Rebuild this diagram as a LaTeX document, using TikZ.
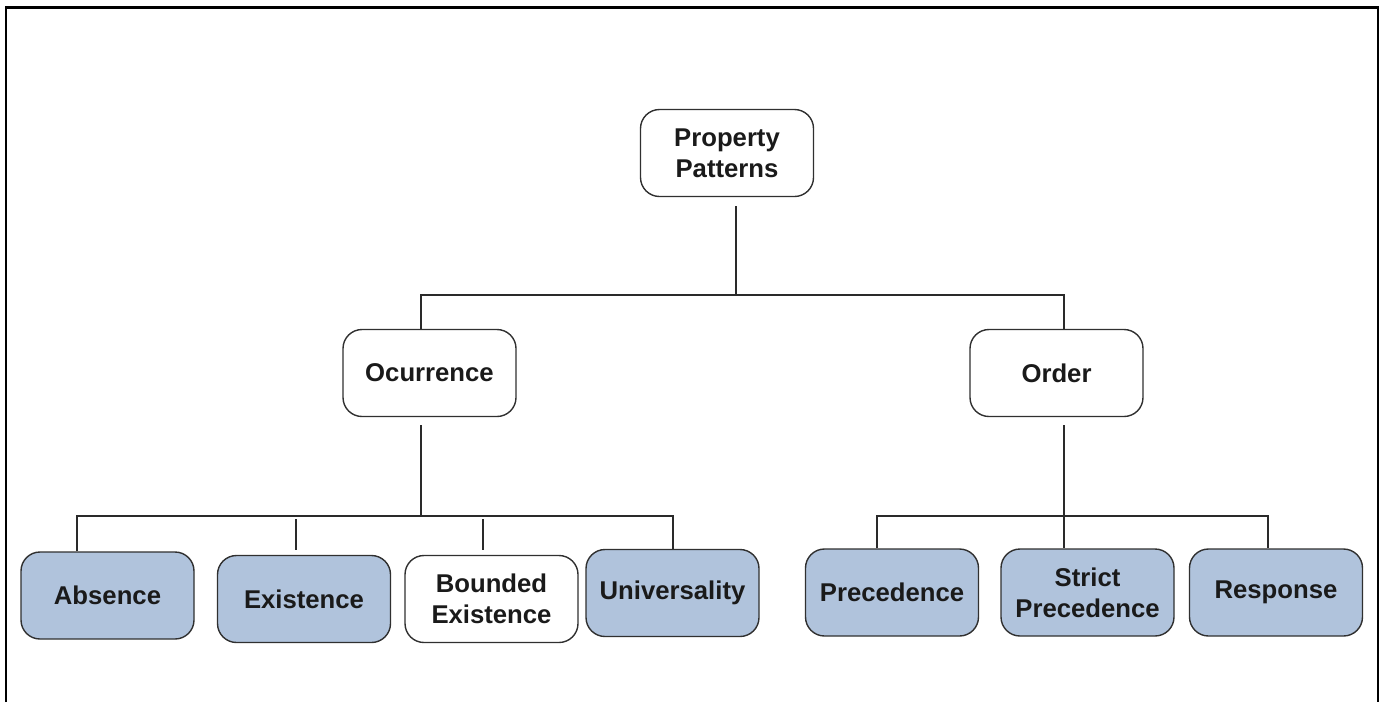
\documentclass[tikz,border=0pt]{standalone}
\usepackage{fontspec}
\setmainfont{Liberation Sans}
\definecolor{leafblue}{HTML}{B0C3DC}
\definecolor{boxline}{HTML}{303030}
\definecolor{linkgray}{HTML}{2A2A2A}
\definecolor{txt}{HTML}{1A1A1A}
\begin{document}
\begin{tikzpicture}[x=1pt,y=-1pt,
  box/.style={draw=boxline, line width=1.4pt, rounded corners=19pt,
    minimum width=173pt, minimum height=87pt, inner sep=0pt, align=center,
    font=\fontsize{25.7}{31}\selectfont\bfseries, text=txt},
  leaf/.style={box, fill=leafblue},
  link/.style={draw=linkgray, line width=1.6pt}
]
\useasboundingbox (0,0) rectangle (1383,702);
% open frame (no bottom edge)
\draw[line width=2.5pt] (6,702) -- (6,7.7) -- (1378,7.7) -- (1378,702);

% nodes
\node[box]  (root)    at (727,153)    {Property\\Patterns};
\node[box]  (ocur)    at (429.5,373)  {Ocurrence};
\node[box]  (order)   at (1056.5,373) {Order};
\node[leaf] (absence) at (107.5,595.5){Absence};
\node[leaf] (exist)   at (304,599)    {Existence};
\node[box]  (bounded) at (491.5,599)  {Bounded\\Existence};
\node[leaf] (univ)    at (672.5,593)  {Universality};
\node[leaf] (prec)    at (892,592.5)  {Precedence};
\node[leaf] (strict)  at (1087.5,592.5){Strict\\Precedence};
\node[leaf] (resp)    at (1276,592.5) {Response};

% bus junctions
\coordinate (bus0) at (736,295);
\coordinate (bus1) at (421,516);
\coordinate (bus2) at (1064,516);
\coordinate (dAbs) at (77,516);
\coordinate (dEx)  at (296,516);
\coordinate (dBnd) at (483,516);
\coordinate (dUni) at (673,516);
\coordinate (dPre) at (877,516);
\coordinate (dRes) at (1268,516);

% top level
\draw[link] ([yshift=-9pt]root.south -| bus0) -- (bus0);
\draw[link] (ocur.north -| bus1) -- (bus1 |- bus0) -- (bus2 |- bus0) -- (order.north -| bus2);

% occurrence branch
\draw[link] ([yshift=-8pt]ocur.south -| bus1) -- (bus1);
\draw[link] (absence.north -| dAbs) -- (dAbs) -- (dUni) -- (univ.north -| dUni);
\draw[link] ([yshift=-3pt]dEx) -- ([yshift=5pt]exist.north -| dEx);
\draw[link] ([yshift=-3pt]dBnd) -- ([yshift=5pt]bounded.north -| dBnd);

% order branch
\draw[link] ([yshift=-8pt]order.south -| bus2) -- (bus2);
\draw[link] (prec.north -| dPre) -- (dPre) -- (dRes) -- (resp.north -| dRes);
\draw[link] (bus2) -- (strict.north -| bus2);
\end{tikzpicture}
\end{document}
